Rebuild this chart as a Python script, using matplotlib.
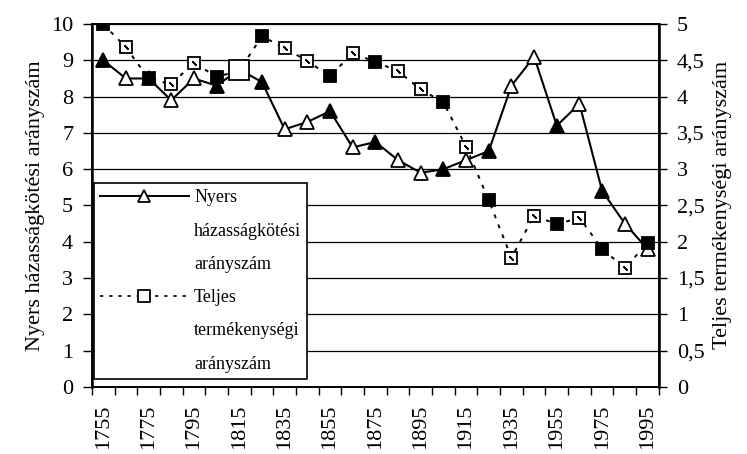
import matplotlib.pyplot as plt
from matplotlib.lines import Line2D
from matplotlib.ticker import FuncFormatter

plt.rcParams['font.family'] = ['Liberation Serif', 'DejaVu Serif']

# evek (10 eves lepes)
evek = list(range(1755, 2000, 10))
# nyers hazassagkotesi aranyszam (bal tengely)
hazassag = [9.0, 8.5, 8.5, 7.9, 8.5, 8.3, 8.75, 8.4, 7.1, 7.3, 7.6, 6.6, 6.75,
            6.25, 5.9, 6.0, 6.25, 6.5, 8.3, 9.1, 7.2, 7.8, 5.4, 4.5, 3.8]
# teljes termekenysegi aranyszam (jobb tengely)
termekenyseg = [5.0, 4.68, 4.25, 4.17, 4.47, 4.27, 4.36, 4.83, 4.67, 4.49, 4.28,
                4.6, 4.48, 4.35, 4.1, 3.92, 3.31, 2.57, 1.78, 2.36, 2.24, 2.33,
                1.9, 1.64, 1.98]
bal_ticks = list(range(0, 11))
jobb_ticks = [0, 0.5, 1, 1.5, 2, 2.5, 3, 3.5, 4, 4.5, 5]
x_cimkek = [str(e) for e in evek[::2]]
leg_sorok1 = ['Nyers', 'házasságkötési', 'arányszám']
leg_sorok2 = ['Teljes', 'termékenységi', 'arányszám']

# a kitoltott jelolok evei (a beszkennelt abran igy latszik)
teli_evek = [1755, 1775, 1805, 1825, 1855, 1875, 1905, 1925, 1955, 1975]
teli_evek_negyzet = teli_evek + [1995]

fig = plt.figure(figsize=(7.47, 4.54), dpi=100)
ax = fig.add_axes([0.123, 0.148, 0.759, 0.799])
ax2 = ax.twinx()

x = list(range(len(evek)))
szaggatott = (0, (2, 3.5))

# nyers hazassagkotesi aranyszam
ax.plot(x, hazassag, color='black', lw=1.5, zorder=3)
for i, e in enumerate(evek):
    fc = 'black' if e in teli_evek else 'white'
    ax.plot(x[i], hazassag[i], marker='^', ms=9.5, mfc=fc, mec='black', mew=1.3,
            zorder=4)

# teljes termekenysegi aranyszam
ax2.plot(x, termekenyseg, color='black', lw=1.4, ls=szaggatott, zorder=3)
for i, e in enumerate(evek):
    teli = e in teli_evek_negyzet
    ms = 14 if e == 1815 else 8
    ax2.plot(x[i], termekenyseg[i], marker='s', ms=ms,
             mfc='black' if teli else 'white', mec='black', mew=1.3, zorder=4)
    if not teli and e != 1815:
        ax2.plot(x[i], termekenyseg[i], marker=(2, 2, 45), ms=4, mec='black',
                 mew=1.2, zorder=5)

ax.set_xlim(-0.5, len(evek) - 0.5)
ax.set_ylim(0, 10)
ax2.set_ylim(0, 5)
ax.set_yticks(bal_ticks)
ax2.set_yticks(jobb_ticks)
ax2.yaxis.set_major_formatter(FuncFormatter(lambda v, p: f'{v:g}'.replace('.', ',')))

ax.set_xticks([i - 0.5 for i in range(len(evek) + 1)], minor=True)
ax.set_xticks(x[::2])
ax.set_xticklabels(x_cimkek, rotation=90)
ax.tick_params(axis='x', which='major', length=0, labelsize=16, pad=13)
ax.tick_params(axis='x', which='minor', length=6, width=1, direction='out')
ax.tick_params(axis='y', length=6.5, width=1, labelsize=16, pad=7)
ax2.tick_params(axis='y', length=6, width=1, labelsize=16, pad=7)

ax.grid(axis='y', color='black', lw=0.9)
for s in ax.spines.values():
    s.set_linewidth(1.2)
for s in ax2.spines.values():
    s.set_linewidth(1.2)
ax.spines['left'].set_linewidth(1.8)
ax2.spines['right'].set_linewidth(1.8)

ax.set_ylabel('Nyers házasságkötési arányszám', fontsize=16, labelpad=4)
ax2.set_ylabel('Teljes termékenységi arányszám', fontsize=16, labelpad=6)

# jelmagyarazat: a jel az elso sorhoz igazodik
ures = Line2D([], [], linestyle='none')
kezelok = [
    Line2D([0], [0], color='black', lw=1.4, marker='^', ms=8.5, mfc='white',
           mec='black', mew=1.3),
    ures, ures,
    Line2D([0], [0], color='black', lw=1.2, ls=szaggatott, marker='s', ms=9,
           mfc='white', mec='black', mew=1.3),
    ures, ures,
]
leg = ax2.legend(kezelok, leg_sorok1 + leg_sorok2,
                 loc='lower left', bbox_to_anchor=(0.0035, 0.022), fontsize=13,
                 frameon=True, fancybox=False, edgecolor='black',
                 handlelength=4.9, handletextpad=0.3, labelspacing=0.9,
                 borderpad=0.35, borderaxespad=0)
leg.get_frame().set_linewidth(1.2)
leg.get_frame().set_alpha(1)

fig.savefig('out.png', dpi=100)
